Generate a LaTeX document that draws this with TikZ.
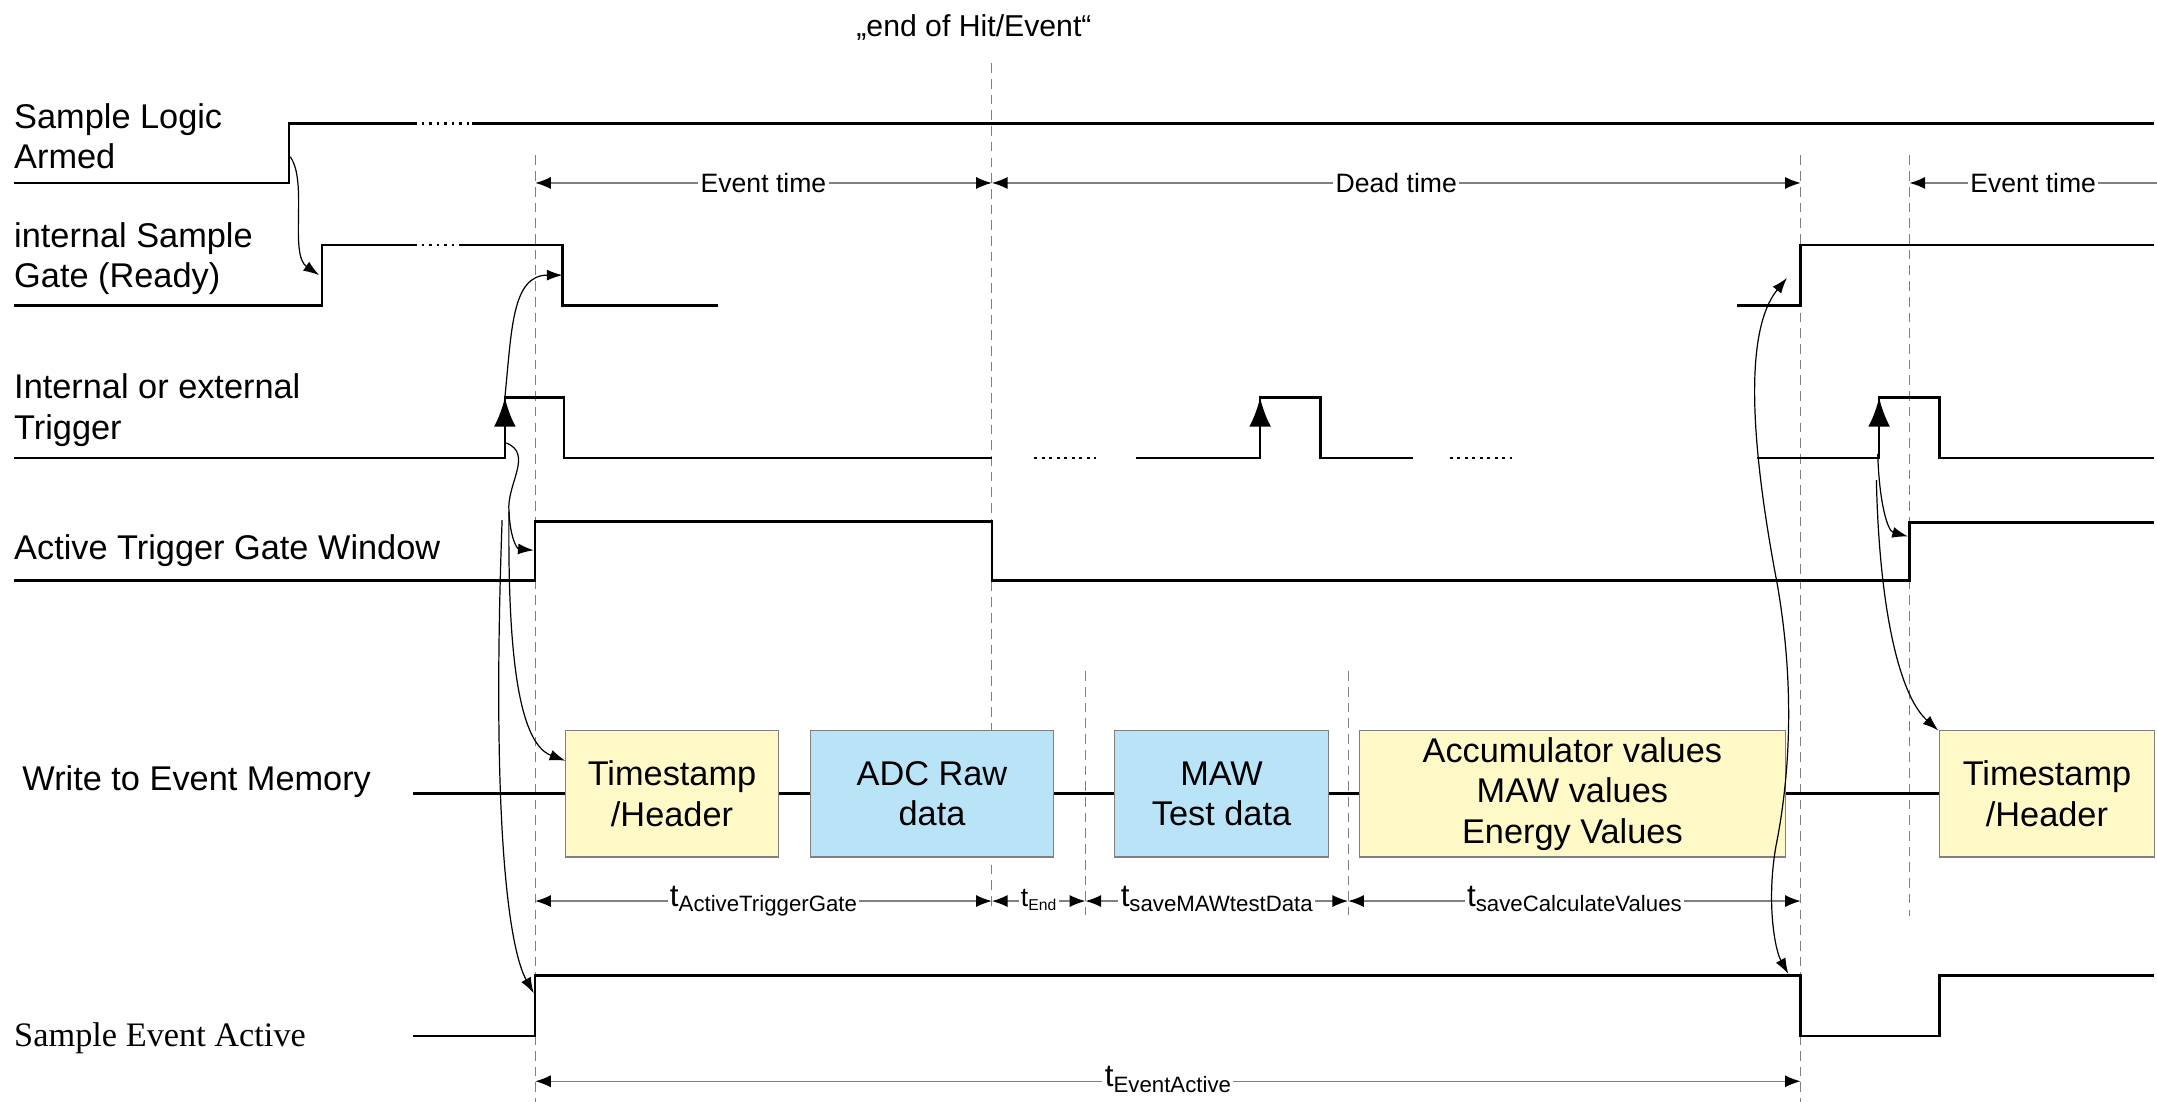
\documentclass[tikz,border=0pt]{standalone}
\usepackage{fontspec}
\setmainfont{Liberation Sans}
\newfontfamily\serifface{Liberation Serif}
\usetikzlibrary{arrows.meta}

\definecolor{boxyellow}{RGB}{255,249,199}
\definecolor{boxblue}{RGB}{185,228,247}
\definecolor{dimgray}{RGB}{128,128,128}

\newcommand\tdur[1]{{\fontsize{13}{13}\selectfont t}\raisebox{-2.2pt}{\fontsize{9.2}{9.2}\selectfont #1}}

\tikzset{
  dimtip/.tip={Latex[length=6.5pt,width=5pt,color=black]},
  causetip/.tip={Latex[length=6.5pt,width=4.5pt]},
  sig/.style={line width=1.1pt},
  vline/.style={dimgray, line width=0.5pt, dash pattern=on 4pt off 2.5pt},
  dimline/.style={dimgray, line width=0.6pt, dimtip-dimtip},
  cause/.style={line width=0.5pt, -causetip},
  lbl/.style={font=\fontsize{14.2}{16.8}\selectfont, align=left, anchor=west, inner sep=0pt},
  memblock/.style={draw=gray, line width=0.5pt, minimum height=1.84cm, inner sep=0pt,
    align=center, font=\fontsize{14.2}{16.8}\selectfont},
  evlbl/.style={fill=white, text=black, inner sep=1pt, font=\fontsize{11}{13}\selectfont},
  tlbl/.style={fill=white, text=black, inner sep=1pt, anchor=base, yshift=-2.3pt}
}

\begin{document}
\begin{tikzpicture}[x=0.02cm, y=-0.02cm]
\useasboundingbox (0,0) rectangle (1568,801);

\foreach \x/\a/\b in {389/113/801, 721/46/662, 789/488/665, 980/488/665, 1309/113/801, 1388/113/666}
  \draw[vline] (\x,\a) -- (\x,\b);

\node[font=\fontsize{12.5}{14}\selectfont] (endlbl) at (708,20) {„end of Hit/Event“};

\node[lbl] (armed) at (10,99) {Sample Logic\\Armed};
\node[lbl] (ready) at (10,188) {internal Sample\\Gate (Ready)};
\node[lbl] (trig) at (10,298) {Internal or external\\Trigger};
\node[lbl] (win) at (10,400) {Active Trigger Gate Window};
\node[lbl] (mem) at (16,568) {Write to Event Memory};
\node[lbl, font=\serifface\fontsize{14.2}{16.8}\selectfont] (evact) at (10,755) {Sample Event Active};

\draw[sig] (10,133) -- (210,133) -- (210,90) -- (301,90);
\draw[sig, dotted] (301,90) -- (343,90);
\draw[sig] (343,90) -- (1566,90);

\draw[sig] (10,222) -- (234,222) -- (234,178) -- (301,178);
\draw[sig, dotted] (301,178) -- (335,178);
\draw[sig] (335,178) -- (409,178) -- (409,222) -- (522,222);
\draw[sig] (1263,222) -- (1309,222) -- (1309,178) -- (1566,178);

\draw[sig] (10,333) -- (367,333) -- (367,289) -- (410,289) -- (410,333) -- (721,333);
\draw[sig, dotted] (752,333) -- (797,333);
\draw[sig] (826,333) -- (916,333) -- (916,289) -- (960,289) -- (960,333) -- (1027,333);
\draw[sig, dotted] (1054,333) -- (1099,333);
\draw[sig] (1277,333) -- (1366,333) -- (1366,289) -- (1410,289) -- (1410,333) -- (1566,333);
\foreach \x in {367,916,1366}
  \draw[sig, -{Latex[length=12pt,width=9pt]}] (\x,333) -- (\x,289);

\draw[sig] (10,422) -- (389,422) -- (389,379) -- (721,379) -- (721,422) -- (1388,422) -- (1388,380) -- (1566,380);

\node[memblock, fill=boxyellow, minimum width=3.1cm] (ts) at (488.5,577) {Timestamp\\/Header};
\node[memblock, fill=boxblue, minimum width=3.54cm] (adc) at (677.5,577) {ADC Raw\\data};
\node[memblock, fill=boxblue, minimum width=3.12cm] (maw) at (888,577) {MAW\\Test data};
\node[memblock, fill=boxyellow, minimum width=6.2cm] (acc) at (1143,577) {Accumulator values\\MAW values\\Energy Values};
\node[memblock, fill=boxyellow, minimum width=3.12cm] (tsb) at (1488,577) {Timestamp\\/Header};
\draw[sig] (300,577) -- (ts.west) (ts.east) -- (adc.west) (adc.east) -- (maw.west)
  (maw.east) -- (acc.west) (acc.east) -- (tsb.west);

\draw[sig] (300,753) -- (389,753) -- (389,709) -- (1309,709) -- (1309,753) -- (1410,753) -- (1410,709) -- (1566,709);

\draw[dimline] (389,133) -- node[evlbl] {Event time} (721,133);
\draw[dimline] (721,133) -- node[evlbl] {Dead time} (1309,133);
\draw[dimline, dimtip-] (1388,133) -- node[evlbl] {Event time} (1568,133);

\draw[dimline] (389,655) -- node[tlbl] {\tdur{ActiveTriggerGate}} (721,655);
\draw[dimline] (721,655) -- node[tlbl] {{\fontsize{11}{11}\selectfont t}\raisebox{-1.6pt}{\fontsize{6.5}{6.5}\selectfont End}} (789,655);
\draw[dimline] (789,655) -- node[tlbl] {\tdur{saveMAWtestData}} (980,655);
\draw[dimline] (980,655) -- node[tlbl] {\tdur{saveCalculateValues}} (1309,655);
\draw[dimline] (389,786) -- node[tlbl] {\tdur{EventActive}} (1309,786);

\path (211,114) coordinate (armRise) (232,200) coordinate (rdyRise)
  (367,289) coordinate (trgRise) (409,200) coordinate (rdyFall)
  (368,322) coordinate (trgFoot) (370,372) coordinate (trgMid) (388,400) coordinate (winRise)
  (411,553) coordinate (tsIn) (365,378) coordinate (winTop) (388,722) coordinate (actRise)
  (1299,202) coordinate (rdyRiseB) (1300,708) coordinate (actFall)
  (1365,330) coordinate (trgRiseB) (1387,390) coordinate (winRiseB)
  (1364,349) coordinate (trgMidB) (1409,531) coordinate (tsbIn);

\draw[cause] (armRise) .. controls (224,132) and (210,185) .. (rdyRise);
\draw[cause] (trgRise) .. controls (372,240) and (372,200) .. (rdyFall);
\draw[cause] (trgFoot) .. controls (388,330) and (368,352) .. (trgMid) .. controls (371,392) and (376,399) .. (winRise);
\draw[cause] (trgMid) .. controls (369,470) and (376,540) .. (tsIn);
\draw[cause] (winTop) .. controls (357,600) and (370,690) .. (actRise);
\draw[cause, causetip-causetip] (rdyRiseB) .. controls (1268,240) and (1272,320) .. (1292,425)
  .. controls (1305,500) and (1301,565) .. (1291,615) .. controls (1284,655) and (1290,690) .. (actFall);
\draw[cause] (trgRiseB) .. controls (1366,365) and (1372,386) .. (winRiseB);
\draw[cause] (trgMidB) .. controls (1366,440) and (1380,505) .. (tsbIn);

\end{tikzpicture}
\end{document}
